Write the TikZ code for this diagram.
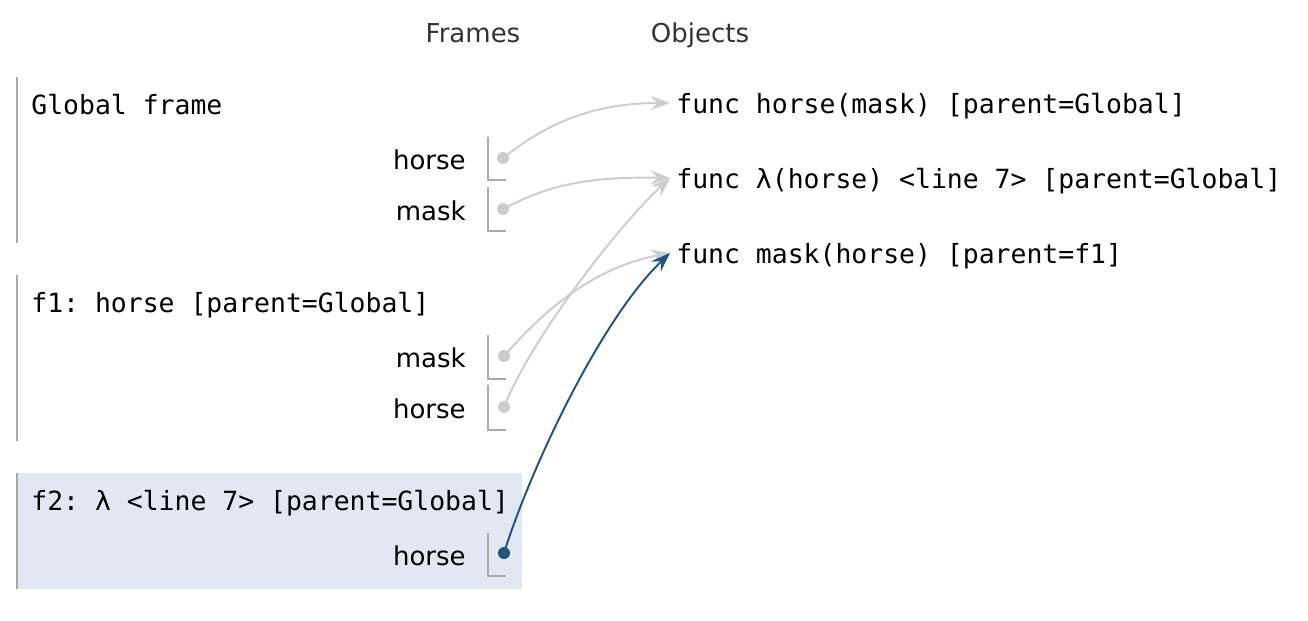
\documentclass[tikz,border=0pt]{standalone}
\usepackage{fontspec}
\setmainfont{DejaVu Sans}
\setmonofont{DejaVu Sans Mono}
\usetikzlibrary{arrows.meta,calc}
\definecolor{ptgray}{RGB}{204,204,204}
\definecolor{ptframe}{RGB}{170,170,170}
\definecolor{ptblue}{RGB}{33,82,128}
\definecolor{ptbg}{RGB}{226,232,243}
\definecolor{pthead}{RGB}{51,51,51}

\begin{document}
\begin{tikzpicture}[x=0.02cm, y=-0.02cm, >={Stealth[length=11pt,width=8pt,inset=4pt]},
	every node/.style={font=\fontsize{14.8}{17}\selectfont, inner sep=0pt},
	heading/.style={text=pthead, anchor=base},
	frametitle/.style={font=\fontsize{15.05}{17}\selectfont\ttfamily, anchor=base west},
	varname/.style={anchor=base east},
	ptr/.style={circle, fill=ptgray, minimum size=0.24cm},
	objlabel/.style={font=\fontsize{15.05}{17}\selectfont\ttfamily, anchor=west, inner xsep=0.12cm, text height=13.3pt, text depth=1.8pt},
	link/.style={->, ptgray, line width=1.1pt},
	rule/.style={ptframe, line width=1.1pt}]
			\newcommand{\ValueBox}[2]{
				\draw[rule] (488,#1) |- (506,#2);
			}

			\useasboundingbox (0,0) rectangle (1308,620);

			\node (frames) [heading] at (473,42) {Frames};
			\node (objects) [heading] at (700,42) {Objects};

			\draw[rule] (17,77) -- (17,243);
			\draw[rule] (17,275) -- (17,441);
			\fill[ptbg] (17,473) rectangle (522,589);
			\draw[rule] (17,473) -- (17,589);

			\node (gtitle) [frametitle] at (31,114) {Global frame};
			\node (fonetitle) [frametitle] at (31,312) {f1: horse [parent=Global]};
			\node (ftwotitle) [frametitle] at (31,510) {f2: λ <line 7> [parent=Global]};

			\node (ghorselbl) [varname] at (466,169) {horse};
			\node (gmasklbl) [varname] at (466,220) {mask};
			\node (fonemasklbl) [varname] at (466,367) {mask};
			\node (fonehorselbl) [varname] at (466,418) {horse};
			\node (ftwohorselbl) [varname] at (466,565) {horse};

			\ValueBox{137}{180}
			\ValueBox{187}{231}
			\ValueBox{335}{379}
			\ValueBox{385}{430}
			\ValueBox{533}{576}

			\node (ghorse) [ptr] at (503,158) {};
			\node (gmask) [ptr] at (503,209) {};
			\node (fonemask) [ptr] at (504,356) {};
			\node (fonehorse) [ptr] at (504,407) {};
			\node (ftwohorse) [ptr, fill=ptblue] at (504,553) {};

			\node (ohorse) [objlabel] at (670,103) {func horse(mask) [parent=Global]};
			\node (olambda) [objlabel] at (670,178) {func λ(horse) <line 7> [parent=Global]};
			\node (omask) [objlabel] at (670,253) {func mask(horse) [parent=f1]};

			\draw[link] (ghorse.center) .. controls (545,125) and (590,103) .. (ohorse.west);
			\draw[link] (gmask.center) .. controls (540,190) and (575,176) .. (olambda.west);
			\draw[link] (fonemask.center) .. controls (540,315) and (590,268) .. (omask.west);
			\draw[link] (fonehorse.center) .. controls (528,345) and (612,232) .. (olambda.west);
			\draw[link, ptblue] (ftwohorse.center) .. controls (530,470) and (600,320) .. (omask.west);
		\end{tikzpicture}
\end{document}
